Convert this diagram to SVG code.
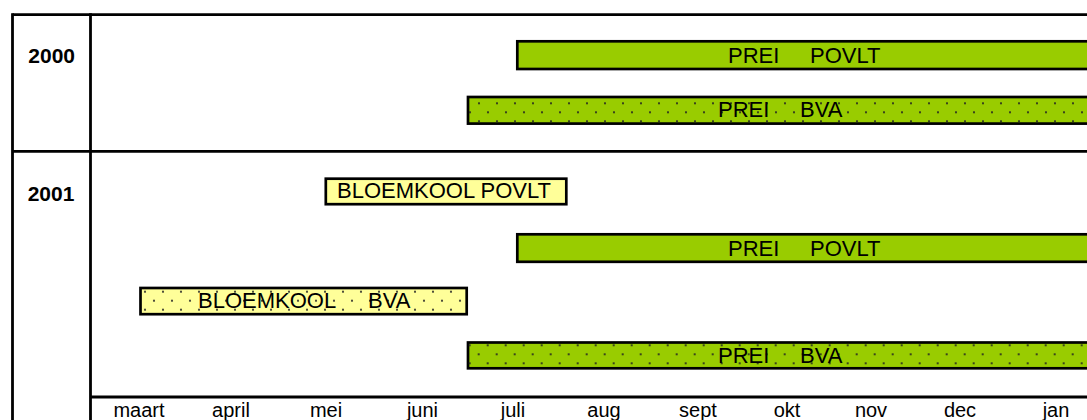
<svg xmlns="http://www.w3.org/2000/svg" width="1087" height="420" viewBox="0 0 1087 420">
<style>
.frame{stroke:#000;stroke-width:2.8;fill:none}
.bar{stroke:#000;stroke-width:2.7}
.green{fill:#99CC00}
.yellow{fill:#FFFF99}
.lbl{font-family:"Liberation Sans",Arial,sans-serif;font-size:22px;fill:#000}
.year{font-family:"Liberation Sans",Arial,sans-serif;font-size:21px;font-weight:bold;fill:#000;text-anchor:middle}
.month{font-family:"Liberation Sans",Arial,sans-serif;font-size:20px;fill:#000;text-anchor:middle}
.dot{fill:#222}
</style>
<defs>
<pattern id="dotsA" patternUnits="userSpaceOnUse" x="470" y="112.3" width="18" height="18">
<circle class="dot" cx="0" cy="0" r="1.1"/><circle class="dot" cx="18" cy="0" r="1.1"/><circle class="dot" cx="0" cy="18" r="1.1"/><circle class="dot" cx="18" cy="18" r="1.1"/><circle class="dot" cx="9" cy="9" r="1.1"/>
</pattern>
<pattern id="dotsB" patternUnits="userSpaceOnUse" x="856.7" y="354.3" width="18" height="18">
<circle class="dot" cx="0" cy="0" r="1.1"/><circle class="dot" cx="18" cy="0" r="1.1"/><circle class="dot" cx="0" cy="18" r="1.1"/><circle class="dot" cx="18" cy="18" r="1.1"/><circle class="dot" cx="9" cy="9" r="1.1"/>
</pattern>
<pattern id="dotsC" patternUnits="userSpaceOnUse" x="145" y="291.7" width="18" height="18">
<circle class="dot" cx="0" cy="0" r="1.1"/><circle class="dot" cx="18" cy="0" r="1.1"/><circle class="dot" cx="0" cy="18" r="1.1"/><circle class="dot" cx="18" cy="18" r="1.1"/><circle class="dot" cx="9" cy="9" r="1.1"/>
</pattern>
</defs>
<rect width="1087" height="420" fill="#fff"/>
<g id="frame">
<line class="frame" x1="12.5" y1="14.7" x2="1090" y2="14.7"/>
<line class="frame" x1="12.5" y1="13.3" x2="12.5" y2="420"/>
<line class="frame" x1="90.5" y1="13.3" x2="90.5" y2="420"/>
<line class="frame" x1="12.5" y1="151.3" x2="1090" y2="151.3"/>
<line class="frame" x1="90.5" y1="397" x2="1090" y2="397"/>
</g>
<g id="years">
<text class="year" x="51.7" y="63.3">2000</text>
<text class="year" x="51" y="200.7">2001</text>
</g>
<g id="months">
<text class="month" x="139" y="417">maart</text>
<text class="month" x="231" y="417">april</text>
<text class="month" x="326" y="417">mei</text>
<text class="month" x="422.5" y="417">juni</text>
<text class="month" x="513" y="417">juli</text>
<text class="month" x="604" y="417">aug</text>
<text class="month" x="698" y="417">sept</text>
<text class="month" x="787" y="417">okt</text>
<text class="month" x="871" y="417">nov</text>
<text class="month" x="960" y="417">dec</text>
<text class="month" x="1056" y="417">jan</text>
</g>
<g id="prei-povlt-2000">
<rect class="bar green" x="517.3" y="41.3" width="600" height="27.7"/>
<text class="lbl" y="63"><tspan x="728">PREI</tspan><tspan x="810">POVLT</tspan></text>
</g>
<g id="prei-bva-2000">
<rect class="bar green" x="468" y="97" width="650" height="26.6"/>
<rect x="468" y="97" width="650" height="26.6" fill="url(#dotsA)"/>
<text class="lbl" y="117"><tspan x="718">PREI</tspan><tspan x="800">BVA</tspan></text>
</g>
<g id="bloemkool-povlt-2001">
<rect class="bar yellow" x="325.8" y="178.7" width="240.5" height="25.5"/>
<text class="lbl" x="337" y="198.3">BLOEMKOOL POVLT</text>
</g>
<g id="prei-povlt-2001">
<rect class="bar green" x="517.3" y="234.3" width="600" height="27.5"/>
<text class="lbl" y="256"><tspan x="728">PREI</tspan><tspan x="810">POVLT</tspan></text>
</g>
<g id="bloemkool-bva-2001">
<rect class="bar yellow" x="140.5" y="288" width="326.2" height="26.2"/>
<rect x="140.5" y="288" width="326.2" height="26.2" fill="url(#dotsC)"/>
<text class="lbl" y="308.3"><tspan x="198">BLOEMKOOL</tspan><tspan x="368">BVA</tspan></text>
</g>
<g id="prei-bva-2001">
<rect class="bar green" x="468" y="342.5" width="650" height="25.8"/>
<rect x="468" y="342.5" width="650" height="25.8" fill="url(#dotsB)"/>
<text class="lbl" y="362.5"><tspan x="718">PREI</tspan><tspan x="800">BVA</tspan></text>
</g>
<g id="connectors"/>
</svg>
